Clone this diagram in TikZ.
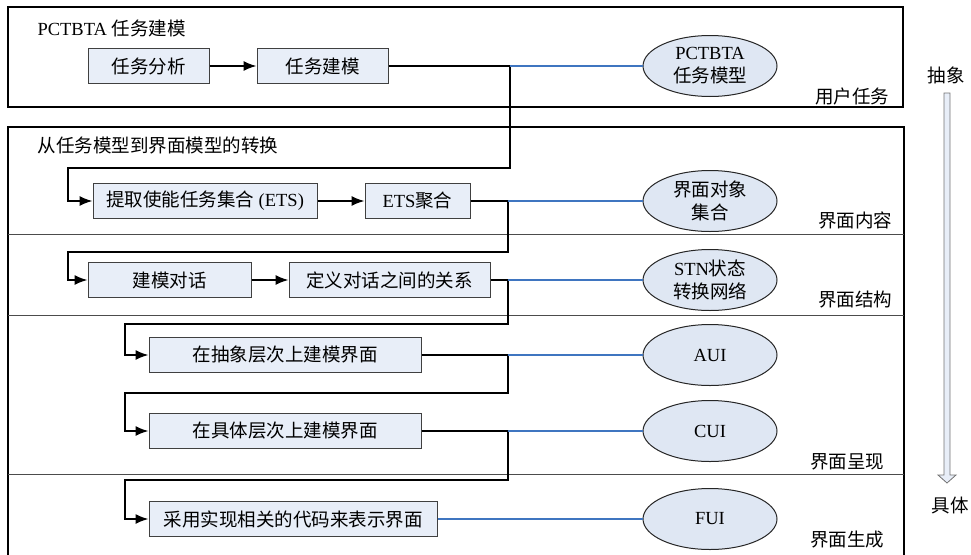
\documentclass[tikz,border=0pt]{standalone}
\usepackage{fontspec}
\setmainfont{Liberation Serif}
\newfontfamily\cjk{Noto Sans CJK SC}
\newcommand{\zh}[1]{{\cjk #1}}
\usetikzlibrary{shapes.geometric,arrows.meta}
\definecolor{boxfill}{HTML}{E8EEF8}
\definecolor{ellfill}{HTML}{DFE7F3}
\definecolor{linkblue}{HTML}{3F75C0}
\begin{document}
\begin{tikzpicture}[x=1pt,y=-1pt,font=\fontsize{18.5}{23}\selectfont]
			\tikzset{task/.style = {draw=black!75, fill=boxfill, line width=1pt, minimum height=35pt, inner sep=0pt}}
			\tikzset{model/.style = {ellipse, draw=black!85, fill=ellfill, line width=1pt, minimum width=134pt, minimum height=61pt, inner sep=0pt, align=center}}
			\tikzset{flow/.style = {->,> = {Latex[length=13pt,width=10pt]}, line width=1.6pt}}
			\tikzset{link/.style = {draw=linkblue, line width=1.1pt}}
			\tikzset{lane/.style = {draw=black!70, line width=1pt}}
			\tikzset{layer/.style = {anchor=east}}
			\useasboundingbox (0,0) rectangle (971,554);
			% Draw frames and lanes
			\draw[line width=1.3pt] (8,7) rectangle (903,107);
			\draw[line width=1.3pt] (8,127) rectangle (904,565);
			\draw[lane] (8,234) -- (904,234);
			\draw[lane] (8,315) -- (904,315);
			\draw[lane] (8,474) -- (904,474);
			\node[anchor=west] (t1) at (34,28) {PCTBTA \zh{任务建模}};
			\node[anchor=west] (t2) at (34,145) {\zh{从任务模型到界面模型的转换}};
			\node[layer] (l1) at (893,96) {\zh{用户任务}};
			\node[layer] (l2) at (896,220) {\zh{界面内容}};
			\node[layer] (l3) at (896,300) {\zh{界面结构}};
			\node[layer] (l4) at (888,462) {\zh{界面呈现}};
			\node[layer] (l5) at (888,540) {\zh{界面生成}};
			% Draw tasks
			\node[task, minimum width=121pt] (ta) at (148.5,66) {\zh{任务分析}};
			\node[task, minimum width=131pt] (tm) at (322.5,66) {\zh{任务建模}};
			\node[task, minimum width=224pt] (ets) at (205,201) {\zh{提取使能任务集合} (ETS)};
			\node[task, minimum width=105pt] (agg) at (417.5,201) {ETS\zh{聚合}};
			\node[task, minimum width=163pt] (dlg) at (169.5,280) {\zh{建模对话}};
			\node[task, minimum width=201pt] (rel) at (389.5,280) {\zh{定义对话之间的关系}};
			\node[task, minimum width=272pt] (abst) at (285,355) {\zh{在抽象层次上建模界面}};
			\node[task, minimum width=272pt] (conc) at (285,431) {\zh{在具体层次上建模界面}};
			\node[task, minimum width=288pt] (code) at (293,519) {\zh{采用实现相关的代码来表示界面}};
			% Draw models
			\node[model] (m1) at (710,66) {PCTBTA\\\zh{任务模型}};
			\node[model] (m2) at (710,201) {\zh{界面对象}\\\zh{集合}};
			\node[model] (m3) at (710,280) {STN\zh{状态}\\\zh{转换网络}};
			\node[model] (m4) at (710,355) {AUI};
			\node[model] (m5) at (710,431) {CUI};
			\node[model] (m6) at (710,519) {FUI};
			% Junctions
			\coordinate (j1) at (510,66);
			\coordinate (j2) at (508,201);
			\coordinate (j3) at (508,280);
			\coordinate (j4) at (508,355);
			\coordinate (j5) at (508,431);
			\coordinate (k1) at (68,168);
			\coordinate (k2) at (68,252);
			\coordinate (k3) at (125,324);
			\coordinate (k4) at (125,393);
			\coordinate (k5) at (125,480);
			\draw[flow] (ta) -- (tm);
			\draw[flow] (ets) -- (agg);
			\draw[flow] (dlg) -- (rel);
			\draw[flow] (tm.east) -- (j1) |- (k1) |- (ets.west);
			\draw[flow] (agg.east) -- (j2) |- (k2) |- (dlg.west);
			\draw[flow] (rel.east) -- (j3) |- (k3) |- (abst.west);
			\draw[flow] (abst.east) -- (j4) |- (k4) |- (conc.west);
			\draw[flow] (conc.east) -- (j5) |- (k5) |- (code.west);
			\draw[link] (j1) -- (m1);
			\draw[link] (j2) -- (m2);
			\draw[link] (j3) -- (m3);
			\draw[link] (j4) -- (m4);
			\draw[link] (j5) -- (m5);
			\draw[link] (code) -- (m6);
			% Draw abstraction arrow
			\node (abs) at (946,75) {\zh{抽象}};
			\node (con) at (950,505) {\zh{具体}};
			\draw[draw=black!55, fill=boxfill, line width=0.8pt] (944,93) -- (950,93) -- (950,475) -- (956,475) -- (947,483) -- (938,475) -- (944,475) -- cycle;
		\end{tikzpicture}
\end{document}
